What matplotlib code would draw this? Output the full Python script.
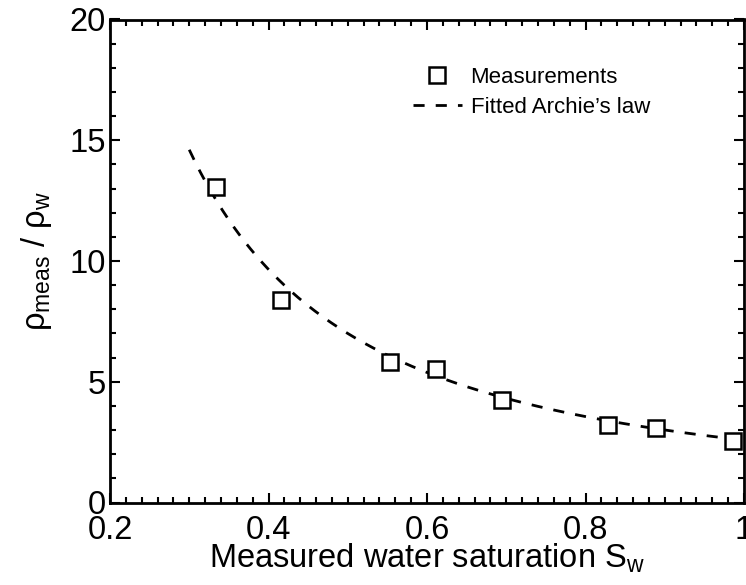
import numpy as np
import matplotlib
matplotlib.use('Agg')
import matplotlib.pyplot as plt
from matplotlib.ticker import MultipleLocator

plt.rcParams['font.family'] = ['Liberation Sans', 'DejaVu Sans']
plt.rcParams['mathtext.fontset'] = 'custom'
plt.rcParams['mathtext.rm'] = 'Liberation Sans'
plt.rcParams['mathtext.it'] = 'Liberation Sans:italic'

# measured points
sw_meas = [0.334, 0.416, 0.553, 0.611, 0.695, 0.829, 0.889, 0.986]
rho_ratio = [13.07, 8.38, 5.80, 5.51, 4.24, 3.19, 3.07, 2.56]

# fitted Archie's law  rho/rho_w = a * Sw^-n
archie_a = 2.58
archie_n = 1.44
sw_fit = np.linspace(0.3, 1.0, 200)
rho_fit = archie_a * sw_fit ** (-archie_n)

fig = plt.figure(figsize=(7.46, 5.85), dpi=100)
ax = fig.add_axes([110/746., 1 - 502.5/585., 634/746., 483/585.])

ax.plot(sw_meas, rho_ratio, 's', mfc='white', mec='black', mew=1.8, ms=11,
        label='Measurements', zorder=3)
ax.plot(sw_fit, rho_fit, 'k--', lw=2, dashes=(4, 4), label="Fitted Archie\u2019s law")

ax.set_xlim(0.2, 1.0)
ax.set_ylim(0, 20)
ax.set_xticks([0.2, 0.4, 0.6, 0.8, 1.0])
ax.set_xticklabels(['0.2', '0.4', '0.6', '0.8', '1'])
ax.set_yticks([0, 5, 10, 15, 20])
ax.xaxis.set_minor_locator(MultipleLocator(0.02))
ax.yaxis.set_minor_locator(MultipleLocator(1))
ax.tick_params(which='both', direction='in', top=True, right=True, width=1.5,
               labelsize=23.5)
ax.tick_params(axis='x', pad=9)
ax.tick_params(axis='y', pad=3)
ax.tick_params(which='major', length=7)
ax.tick_params(which='minor', length=4)
for s in ax.spines.values():
    s.set_linewidth(2)

ax.set_xlabel('Measured water saturation S$_{\\rm w}$', fontsize=23.5, labelpad=-3)
ax.set_ylabel('\u03c1$_{\\rm meas}$ / \u03c1$_{\\rm w}$', fontsize=23.5, labelpad=11)

ax.legend(loc='upper left', bbox_to_anchor=(0.46, 0.925), frameon=False,
          fontsize=16, handlelength=2.2, handletextpad=0.4, labelspacing=0.4,
          borderpad=0)

fig.savefig('out.png', dpi=100)
